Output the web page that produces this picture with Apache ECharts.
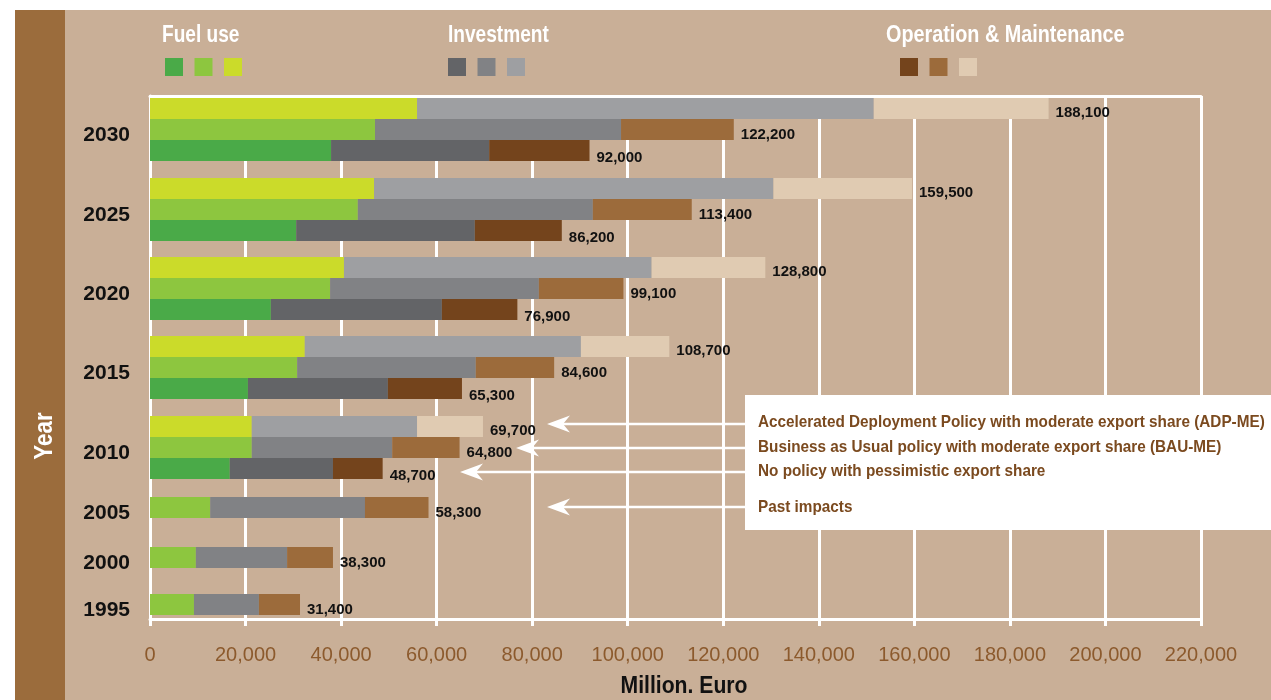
<!DOCTYPE html>
<html>
<head>
<meta charset="utf-8">
<script src="https://cdn.jsdelivr.net/npm/echarts@6/dist/echarts.min.js"></script>
<style>
  html, body { margin: 0; padding: 0; background: #C9AF97; }
  #chart { width: 1271px; height: 700px; }
</style>
</head>
<body>
<div id="chart"></div>
<script>
// ---- Data (million euro) ----
const projectionYears = ['2030', '2025', '2020', '2015', '2010'];
// Accelerated Deployment Policy with moderate export share (ADP-ME)
const adpFuel       = [55900, 46900, 40600, 32400, 21300];
const adpInvestment = [95600, 83600, 64400, 57800, 34600];
const adpOM         = [36600, 29000, 23800, 18500, 13800];
// Business as Usual policy with moderate export share (BAU-ME)
const bauFuel       = [47100, 43500, 37700, 30800, 21300];
const bauInvestment = [51500, 49200, 43700, 37400, 29400];
const bauOM         = [23600, 20700, 17700, 16400, 14100];
// No policy with pessimistic export share
const npFuel        = [37900, 30600, 25300, 20500, 16700];
const npInvestment  = [33100, 37400, 35800, 29300, 21600];
const npOM          = [21000, 18200, 15800, 15500, 10400];
// Past impacts
const pastYears      = ['2005', '2000', '1995'];
const pastFuel       = [12600, 9600, 9200];
const pastInvestment = [32400, 19100, 13600];
const pastOM         = [13300, 9600, 8600];

const components = ['Fuel use', 'Investment', 'Operation & Maintenance'];
const shadeNames = ['No policy', 'BAU-ME / past', 'ADP-ME'];
const scenarioTexts = [
  'Accelerated Deployment Policy with moderate export share (ADP-ME)',
  'Business as Usual policy with moderate export share (BAU-ME)',
  'No policy with pessimistic export share',
  'Past impacts'
];
const axisMax = 220000;
const axisStep = 20000;

// ---- Styling ----
const palette = {
  'Fuel use': ['#4AAA48', '#8DC63F', '#CBDB2A'],
  'Investment': ['#636467', '#818285', '#9E9FA2'],
  'Operation & Maintenance': ['#74441C', '#9C6B3B', '#E0CBB2']
};
const labelShift = [7, 5, 4];   // vertical nudge of total labels per shade
const SANS = "'Liberation Sans', Arial, sans-serif";
const fmt = v => v.toLocaleString('en-US');

// Each year is drawn in its own band; rows listed top to bottom
const groups = [];
projectionYears.forEach((y, i) => {
  groups.push({
    year: y,
    rows: [
      { shade: 2, values: [adpFuel[i], adpInvestment[i], adpOM[i]] },
      { shade: 1, values: [bauFuel[i], bauInvestment[i], bauOM[i]] },
      { shade: 0, values: [npFuel[i], npInvestment[i], npOM[i]] }
    ]
  });
});
pastYears.forEach((y, i) => {
  groups.push({ year: y, rows: [{ shade: 1, values: [pastFuel[i], pastInvestment[i], pastOM[i]] }] });
});

// band placement (px) of each year block
const bandTop = [98, 178, 257, 336, 416, 497, 547, 594];
const rowHeight = 21;
const plotLeft = 150, plotRight = 70;

const grids = [{ left: plotLeft, right: plotRight, top: 96, bottom: 81 }];
const xAxes = [
  {
    gridIndex: 0, type: 'value', min: 0, max: axisMax, interval: axisStep,
    axisLine: { show: true, lineStyle: { color: '#fff', width: 3 } },
    axisTick: { show: true, length: 7, lineStyle: { color: '#fff', width: 3 } },
    splitLine: { show: true, lineStyle: { color: '#fff', width: 3 } },
    axisLabel: { color: '#8C5A2D', fontSize: 20, fontFamily: SANS, margin: 26, formatter: v => fmt(v) }
  },
  {
    gridIndex: 0, type: 'value', position: 'top', min: 0, max: axisMax,
    axisLine: { show: true, lineStyle: { color: '#fff', width: 3 } },
    axisTick: { show: false }, axisLabel: { show: false }, splitLine: { show: false }
  }
];
const yAxes = [
  {
    gridIndex: 0, type: 'value', min: 0, max: 1,
    axisLine: { show: true, lineStyle: { color: '#fff', width: 3 } },
    axisTick: { show: false }, axisLabel: { show: false }, splitLine: { show: false }
  }
];
const series = [];

groups.forEach((g, gi) => {
  const n = g.rows.length;
  grids.push({ left: plotLeft, right: plotRight, top: bandTop[gi], height: n * rowHeight });
  xAxes.push({ gridIndex: gi + 1, type: 'value', min: 0, max: axisMax, show: false });
  yAxes.push({
    gridIndex: gi + 1, type: 'category', inverse: true,
    data: g.rows.map(r => shadeNames[r.shade]),
    axisLine: { show: false }, axisTick: { show: false }, axisLabel: { show: false }, splitLine: { show: false },
    name: g.year, nameLocation: 'middle', nameRotate: 0, nameGap: 20,
    nameTextStyle: { color: '#111', fontSize: 21, fontWeight: 'bold', fontFamily: SANS,
                     verticalAlign: 'top', lineHeight: 11 }
  });
  components.forEach((comp, ci) => {
    g.rows.forEach((row, ri) => {
      const data = g.rows.map((_, k) => (k === ri ? row.values[ci] : '-'));
      const total = row.values.reduce((a, b) => a + b, 0);
      const s = {
        type: 'bar',
        name: comp + ' – ' + shadeNames[row.shade],
        xAxisIndex: gi + 2, yAxisIndex: gi + 1,
        stack: 'year' + gi,
        barCategoryGap: '0%',
        itemStyle: { color: palette[comp][row.shade] },
        data: data
      };
      if (ci === components.length - 1) {
        s.label = {
          show: true, position: 'right', distance: 7, offset: [0, labelShift[row.shade]],
          color: '#111', fontSize: 15, fontWeight: 'bold', fontFamily: SANS,
          formatter: () => fmt(total)
        };
      }
      series.push(s);
    });
  });
});

const legendFor = (comp, left) => ({
  left: left, top: 58, padding: 0, icon: 'rect', itemWidth: 18, itemHeight: 18, itemGap: 11.5,
  selectedMode: false, formatter: () => '',
  data: [0, 1, 2].map(k => comp + ' – ' + shadeNames[k])
});

// condensed bold text drawn by horizontally squeezing Liberation Sans Bold
const narrowText = (text, x, y, size, squeeze, fill, align, extra) => Object.assign({
  type: 'text', x: x, y: y, scaleX: squeeze,
  style: { text: text, fill: fill, fontSize: size, fontWeight: 'bold', fontFamily: SANS,
           align: align, verticalAlign: 'middle', textAlign: align, textVerticalAlign: 'middle' }
}, extra || {});

// Scenario key with arrows pointing at the 2010 / 2005 bars
const keyLines = [
  { text: scenarioTexts[0], y: 422, tip: 547, arrowY: 424 },
  { text: scenarioTexts[1], y: 447, tip: 516, arrowY: 448 },
  { text: scenarioTexts[2], y: 471, tip: 460, arrowY: 472 },
  { text: scenarioTexts[3], y: 507, tip: 547, arrowY: 507 }
];
const graphics = [
  { type: 'rect', shape: { x: 0, y: 0, width: 1271, height: 10 }, style: { fill: '#fff' }, z: -1 },
  { type: 'rect', shape: { x: 0, y: 0, width: 15, height: 700 }, style: { fill: '#fff' }, z: -1 },
  { type: 'rect', shape: { x: 15, y: 10, width: 50, height: 690 }, style: { fill: '#9B6C3C' }, z: -1 },
  narrowText('Year', 45, 436, 26, 0.86, '#fff', 'center', { rotation: Math.PI / 2 }),
  narrowText('Fuel use', 162, 36, 23, 0.83, '#fff', 'left'),
  narrowText('Investment', 448, 36, 23, 0.83, '#fff', 'left'),
  narrowText('Operation & Maintenance', 886, 36, 23, 0.86, '#fff', 'left'),
  narrowText('Million. Euro', 684, 687, 23, 0.92, '#111', 'center'),
  { type: 'rect', shape: { x: 745, y: 395, width: 530, height: 135 }, style: { fill: '#fff' }, z: 10 }
];
keyLines.forEach(k => {
  graphics.push(narrowText(k.text, 758, k.y, 17, 0.9, '#7B4A1F', 'left', { z: 11 }));
  graphics.push({
    type: 'line', z: 9, shape: { x1: k.tip + 14, y1: k.arrowY, x2: 745, y2: k.arrowY },
    style: { stroke: '#fff', lineWidth: 2.5 }
  });
  graphics.push({
    type: 'polygon', z: 9,
    shape: { points: [[k.tip, k.arrowY], [k.tip + 23, k.arrowY - 8.5], [k.tip + 16, k.arrowY], [k.tip + 23, k.arrowY + 8.5]] },
    style: { fill: '#fff' }
  });
});

const chart = echarts.init(document.getElementById('chart'), null, { renderer: 'canvas' });
chart.setOption({
  backgroundColor: '#C9AF97',
  animation: false,
  legend: [legendFor('Fuel use', 165), legendFor('Investment', 448), legendFor('Operation & Maintenance', 900)],
  grid: grids,
  xAxis: xAxes,
  yAxis: yAxes,
  series: series,
  graphic: graphics
});
</script>
</body>
</html>
